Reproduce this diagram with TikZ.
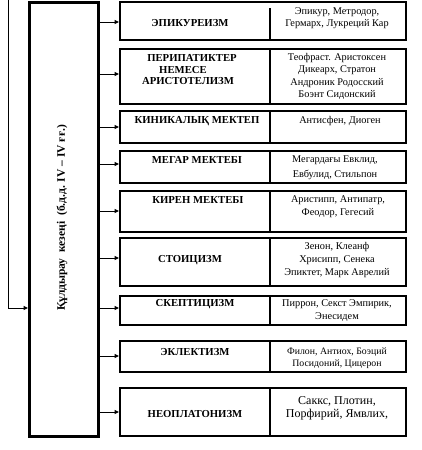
\documentclass[tikz,border=0pt]{standalone}
\usepackage{fontspec}
\setmainfont{Liberation Serif}
\usetikzlibrary{arrows.meta}
\begin{document}
\begin{tikzpicture}[x=1pt,y=-1pt,
  schoolbox/.style={draw=black, line width=2.2pt, minimum width=286pt, inner sep=0pt, anchor=north west},
  mainbox/.style={draw=black, line width=2.6pt, minimum width=69pt, minimum height=434pt, inner sep=0pt, anchor=north west},
  divider/.style={line width=2pt},
  conn/.style={line width=1pt, -{Triangle[length=4.5pt,width=4pt]}},
  title/.style={font=\fontsize{10.7}{12}\selectfont\bfseries, inner sep=0pt, anchor=center},
  names/.style={font=\fontsize{10.3}{12.5}\selectfont, inner sep=0pt, anchor=center, align=center}
]
\useasboundingbox (0,0) rectangle (421,450);

% main box
\node[mainbox] (main) at (28,1) {};
\node[title, rotate=90, font=\fontsize{11.5}{12}\selectfont\bfseries] (maintext) at (62,218) {Құлдырау\ \ кезеңі\ \ (б.д.д. IV – IV ғғ.)};

% left feedback line
\coordinate (top) at (8,0);
\coordinate (bend) at (8,308);
\draw[conn] (top) -- (bend) -- (main.west |- bend);

% school boxes
\node[schoolbox, minimum height=38pt] (b1) at (119,1) {};
\node[schoolbox, minimum height=55pt] (b2) at (119,48) {};
\node[schoolbox, minimum height=32pt] (b3) at (119,110) {};
\node[schoolbox, minimum height=32pt] (b4) at (119,150) {};
\node[schoolbox, minimum height=41pt] (b5) at (119,190) {};
\node[schoolbox, minimum height=48pt] (b6) at (119,237) {};
\node[schoolbox, minimum height=29pt] (b7) at (119,295) {};
\node[schoolbox, minimum height=31pt] (b8) at (119,340) {};
\node[schoolbox, minimum height=48pt] (b9) at (119,387) {};

% dividers
\draw[divider] ([xshift=151pt,yshift=-7pt]b1.north west) -- ([xshift=151pt]b1.south west);
\foreach \b in {b2,b3,b4,b5,b6,b7,b8,b9}{
  \draw[divider] ([xshift=151pt]\b.north west) -- ([xshift=151pt]\b.south west);
}

% connectors
\foreach \b/\y in {b1/22,b2/74,b3/127,b4/164,b5/211,b6/258,b7/308,b8/356,b9/412}{
  \draw[conn] (main.east |- 0,\y) -- (\b.west |- 0,\y);
}

% titles
\node[title] (t1) at (190,23) {ЭПИКУРЕИЗМ};
\node[title] (t2a) at (192,58) {ПЕРИПАТИКТЕР};
\node[title] (t2b) at (183,70) {НЕМЕСЕ};
\node[title] (t2c) at (188,81) {АРИСТОТЕЛИЗМ};
\node[title] (t3) at (197,121) {КИНИКАЛЫҚ МЕКТЕП};
\node[title] (t4) at (197,160) {МЕГАР МЕКТЕБІ};
\node[title] (t5) at (198,200) {КИРЕН МЕКТЕБІ};
\node[title] (t6) at (190,260) {СТОИЦИЗМ};
\node[title] (t7) at (195,304) {СКЕПТИЦИЗМ};
\node[title] (t8) at (195,352) {ЭКЛЕКТИЗМ};
\node[title] (t9) at (195,414) {НЕОПЛАТОНИЗМ};

% names
\node[names] (n1) at (337,18) {Эпикур, Метродор,\\Гермарх, Лукреций Кар};
\node[names] (n2) at (337,76.5) {Теофраст. Аристоксен\\Дикеарх, Стратон\\Андроник Родосский\\Боэнт Сидонский};
\node[names] (n3) at (340,121) {Антисфен, Диоген};
\node[names, font=\fontsize{10.3}{14.5}\selectfont] (n4) at (335,167.5) {Мегардағы Евклид,\\Евбулид, Стильпон};
\node[names, font=\fontsize{10.3}{13}\selectfont] (n5) at (338,206.5) {Аристипп, Антипатр,\\Феодор, Гегесий};
\node[names, font=\fontsize{10.3}{13}\selectfont] (n6) at (337,260) {Зенон, Клеанф\\Хрисипп, Сенека\\Эпиктет, Марк Аврелий};
\node[names, font=\fontsize{10.3}{13}\selectfont] (n7) at (337,310.5) {Пиррон, Секст Эмпирик,\\Энесидем};
\node[names, font=\fontsize{9.8}{12}\selectfont] (n8) at (337,358) {Филон, Антиох, Боэций\\Посидоний, Цицерон};
\node[names, font=\fontsize{12}{13.5}\selectfont] (n9) at (337,408.5) {Саккс, Плотин,\\Порфирий, Ямвлих,};
\end{tikzpicture}
\end{document}
